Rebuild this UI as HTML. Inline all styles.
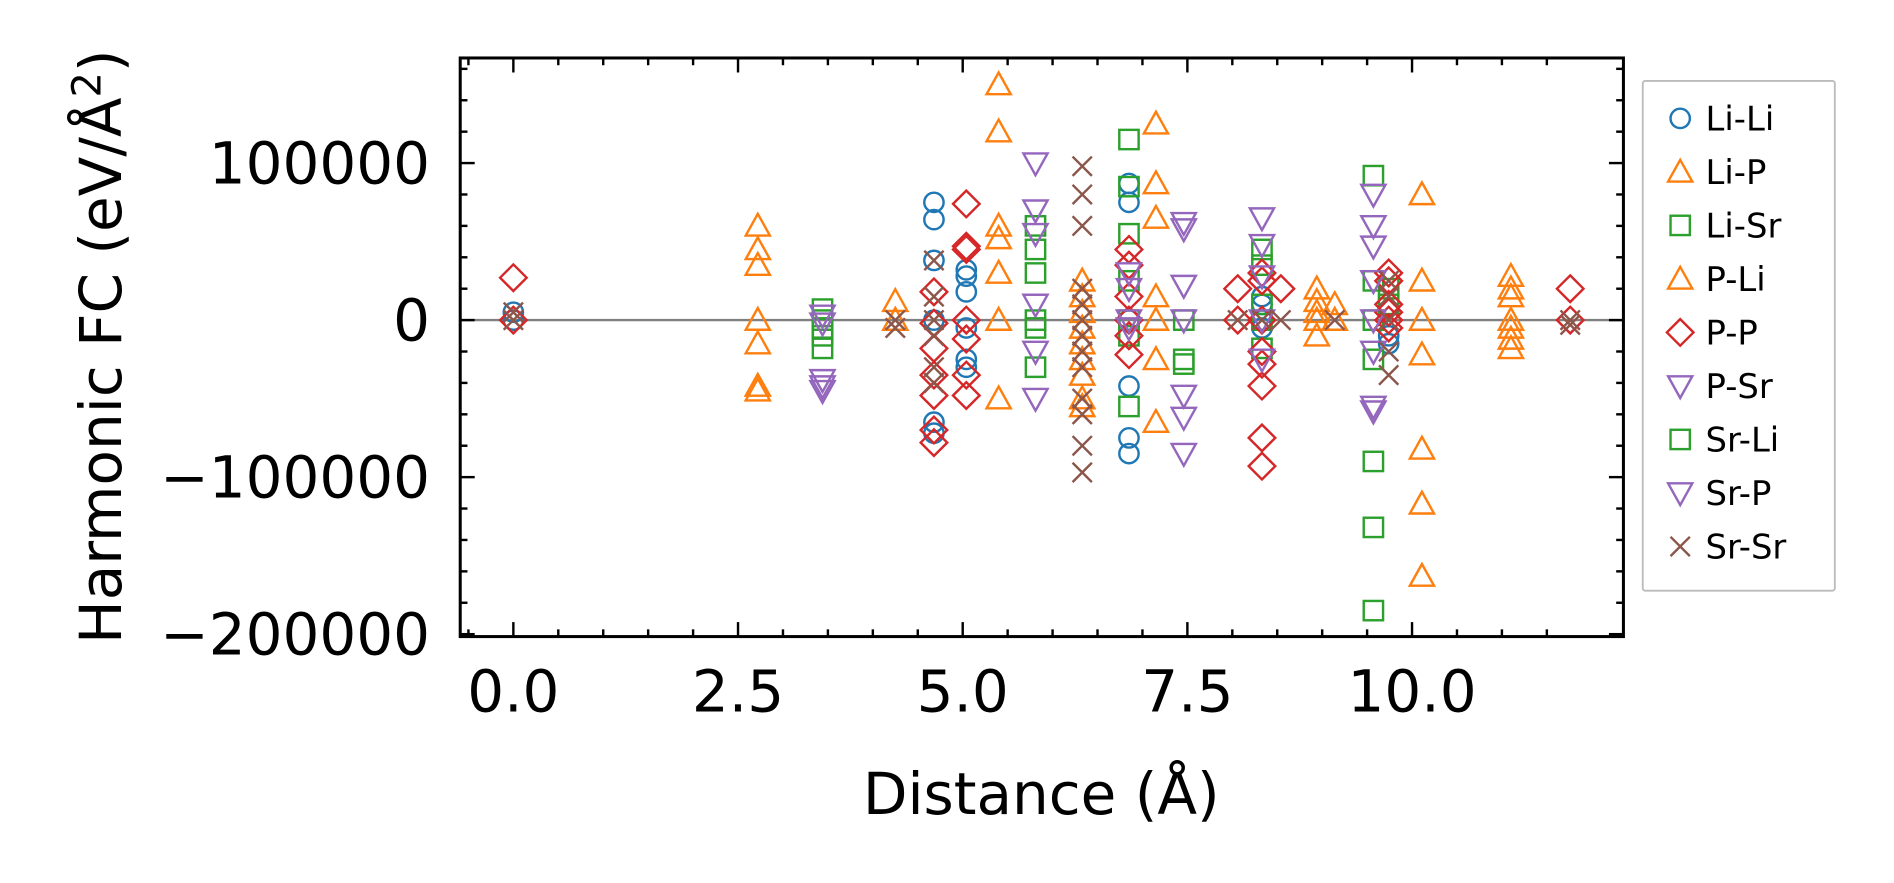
<!DOCTYPE html>
<html><head><meta charset="utf-8"><style>
body{margin:0;background:#fff;}
svg{display:block;font-family:"DejaVu Sans","Liberation Sans",sans-serif;}
</style></head><body>
<svg id="chart" width="1894" height="883" viewBox="0 0 1568 731" preserveAspectRatio="none">
</svg>
<script>
const seriesNames=["Li-Li","Li-P","Li-Sr","P-Li","P-P","P-Sr","Sr-Li","Sr-P","Sr-Sr"];
const xTicks=[0,2.5,5,7.5,10];
const xTickLabels=["0.0","2.5","5.0","7.5","10.0"];
const yTicks=[100000,0,-100000,-200000];
const yTickLabels=["100000","0","\u2212100000","\u2212200000"];
const liLi=[[0,5000],[0,0],[4.68,75000],[4.68,64000],[4.68,38000],[4.68,0],[4.68,-65000],[4.68,-72000],[5.04,32000],[5.04,28000],[5.04,18000],[5.04,-5000],[5.04,-25000],[5.04,-30000],[6.85,87000],[6.85,75000],[6.85,0],[6.85,-42000],[6.85,-75000],[6.85,-85000],[8.33,15000],[8.33,10000],[8.33,0],[8.33,-5000],[9.74,-10000],[9.74,-15000]];
const liP=[[2.72,60000],[2.72,45000],[2.72,35000],[2.72,0],[2.72,-15000],[2.72,-42000],[2.72,-45000],[4.25,12000],[4.25,0],[5.4,150000],[5.4,120000],[5.4,60000],[5.4,52000],[5.4,30000],[5.4,0],[5.4,-50000],[6.33,25000],[6.33,15000],[6.33,5000],[6.33,-5000],[6.33,-15000],[6.33,-25000],[6.33,-35000],[6.33,-50000],[6.33,-55000],[7.15,125000],[7.15,87000],[7.15,65000],[7.15,15000],[7.15,0],[7.15,-25000],[7.15,-65000],[8.94,20000],[8.94,12000],[8.94,5000],[8.94,0],[8.94,-10000],[9.14,10000],[9.14,0],[10.11,80000],[10.11,25000],[10.11,0],[10.11,-22000],[10.11,-82000],[10.11,-117000],[10.11,-163000],[11.1,28000],[11.1,20000],[11.1,15000],[11.1,0],[11.1,-5000],[11.1,-12000],[11.1,-18000]];
const liSr=[[3.44,7000],[3.44,0],[3.44,-5000],[3.44,-10000],[3.44,-18000],[5.81,60000],[5.81,45000],[5.81,30000],[5.81,0],[5.81,-5000],[5.81,-30000],[6.85,115000],[6.85,85000],[6.85,55000],[6.85,25000],[6.85,0],[6.85,-10000],[6.85,-55000],[7.46,0],[7.46,-25000],[7.46,-28000],[8.33,45000],[8.33,35000],[8.33,10000],[8.33,0],[8.33,-18000],[9.57,92000],[9.57,25000],[9.57,0],[9.57,-25000],[9.57,-90000],[9.57,-132000],[9.57,-185000],[9.74,20000],[9.74,10000]];
const pLi=[];
const pP=[[0,27000],[0,0],[4.68,18000],[4.68,-2000],[4.68,-18000],[4.68,-35000],[4.68,-48000],[4.68,-70000],[4.68,-78000],[5.04,74000],[5.04,47000],[5.04,45000],[5.04,0],[5.04,-12000],[5.04,-35000],[5.04,-48000],[6.85,45000],[6.85,35000],[6.85,15000],[6.85,0],[6.85,-10000],[6.85,-22000],[8.06,20000],[8.06,0],[8.33,30000],[8.33,25000],[8.33,0],[8.33,-20000],[8.33,-28000],[8.33,-42000],[8.33,-75000],[8.33,-93000],[8.54,20000],[9.74,30000],[9.74,25000],[9.74,10000],[9.74,5000],[9.74,0],[9.74,-5000],[11.76,20000],[11.76,0]];
const pSr=[[3.44,3000],[3.44,-2000],[3.44,-38000],[3.44,-42000],[3.44,-45000],[5.81,100000],[5.81,70000],[5.81,55000],[5.81,10000],[5.81,-20000],[5.81,-50000],[6.85,30000],[6.85,20000],[6.85,0],[6.85,-5000],[7.46,62000],[7.46,58000],[7.46,22000],[7.46,0],[7.46,-48000],[7.46,-62000],[7.46,-85000],[8.33,65000],[8.33,48000],[8.33,28000],[8.33,0],[8.33,-25000],[9.57,80000],[9.57,60000],[9.57,47000],[9.57,25000],[9.57,0],[9.57,-20000],[9.57,-55000],[9.57,-58000]];
const srLi=[];
const srP=[];
const srSr=[[0,5000],[0,0],[4.25,0],[4.25,-5000],[4.68,38000],[4.68,15000],[4.68,0],[4.68,-10000],[4.68,-30000],[4.68,-40000],[6.33,98000],[6.33,80000],[6.33,60000],[6.33,20000],[6.33,10000],[6.33,0],[6.33,-10000],[6.33,-20000],[6.33,-30000],[6.33,-50000],[6.33,-60000],[6.33,-80000],[6.33,-97000],[8.06,0],[8.33,0],[8.54,0],[9.14,0],[9.74,25000],[9.74,15000],[9.74,0],[9.74,-20000],[9.74,-35000],[11.76,0],[11.76,-3000]];
const seriesData=[liLi,liP,liSr,pLi,pP,pSr,srLi,srP,srSr];
const colors=["#1f77b4","#ff7f0e","#2ca02c","#ff7f0e","#d62728","#9467bd","#2ca02c","#9467bd","#8c564b"];
const shapes=["circle","tri","square","tri","diamond","vtri","square","vtri","x"];

const L=381,R=1344,T=48,B=527;
const X=d=>425+d*74.4;
const Y=v=>265-v*0.0013;
const NS="http://www.w3.org/2000/svg";
const svg=document.getElementById("chart");
function mk(tag,attrs,parent){const e=document.createElementNS(NS,tag);for(const k in attrs)e.setAttribute(k,attrs[k]);(parent||svg).appendChild(e);return e;}
function marker(shape,cx,cy,col,parent){
  const s=10,st={fill:"none",stroke:col,"stroke-width":2};
  let e;
  if(shape==="circle")e=mk("circle",Object.assign({cx:cx,cy:cy,r:8},st),parent);
  else if(shape==="square")e=mk("rect",Object.assign({x:cx-8,y:cy-8,width:16,height:16},st),parent);
  else if(shape==="tri")e=mk("polygon",Object.assign({points:`${cx},${cy-s} ${cx-s},${cy+s*0.8} ${cx+s},${cy+s*0.8}`},st),parent);
  else if(shape==="vtri")e=mk("polygon",Object.assign({points:`${cx},${cy+s} ${cx-s},${cy-s*0.8} ${cx+s},${cy-s*0.8}`},st),parent);
  else if(shape==="diamond")e=mk("polygon",Object.assign({points:`${cx},${cy-11} ${cx+11},${cy} ${cx},${cy+11} ${cx-11},${cy}`},st),parent);
  else e=mk("path",Object.assign({d:`M${cx-8},${cy-8}L${cx+8},${cy+8}M${cx-8},${cy+8}L${cx+8},${cy-8}`},st),parent);
  return e;
}
const zl=mk("line",{x1:L,x2:R,y1:Y(0),y2:Y(0),stroke:"#808080","stroke-width":2});


seriesData.forEach((arr,i)=>{
  const g=mk("g",{});
  
  
  arr.forEach(p=>{
    const m=marker(shapes[i],X(p[0]),Y(p[1]),colors[i],g);
    
    
  });
});
const fr=mk("rect",{x:L,y:T,width:R-L,height:B-T,fill:"none",stroke:"#000","stroke-width":2.5});


for(let d=-0.5;d<=11.5;d+=0.5){
  const x=X(d); if(x<L||x>R)continue;
  const major=Math.abs(d/2.5-Math.round(d/2.5))<1e-6;
  const len=major?12:6;
  mk("line",{x1:x,x2:x,y1:B,y2:B-len,stroke:"#000","stroke-width":2});
  mk("line",{x1:x,x2:x,y1:T,y2:T+len,stroke:"#000","stroke-width":2});
}
for(let v=-200000;v<=160000;v+=20000){
  const y=Y(v); if(y<T||y>B)continue;
  const major=v%100000===0;
  const len=major?12:6;
  mk("line",{x1:L,x2:L+len,y1:y,y2:y,stroke:"#000","stroke-width":2});
  mk("line",{x1:R,x2:R-len,y1:y,y2:y,stroke:"#000","stroke-width":2});
}
xTicks.forEach((d,i)=>{
  const t=mk("text",{x:X(d),y:589,"text-anchor":"middle","font-size":48,fill:"#000"});
  t.textContent=xTickLabels[i];
  
  
});
yTicks.forEach((v,i)=>{
  const t=mk("text",{x:356,y:Y(v)+17,"text-anchor":"end","font-size":48,fill:"#000"});
  t.textContent=yTickLabels[i];
  
  
});
const xt=mk("text",{x:862,y:674,"text-anchor":"middle","font-size":48,fill:"#000"});
xt.textContent="Distance (Å)";


const yt=mk("text",{x:0,y:0,"text-anchor":"middle","font-size":48,fill:"#000",transform:"translate(100,287) rotate(-90)"});
yt.innerHTML='Harmonic FC (eV/Å<tspan dy="-17" font-size="33">2</tspan><tspan dy="17">)</tspan>';


const lg=mk("g",{});


mk("rect",{x:1360,y:67,width:159,height:422,fill:"#fff",stroke:"#bbb","stroke-width":1.5,rx:2},lg);
seriesNames.forEach((n,i)=>{
  const y=98+i*44.3;
  const e=mk("g",{},lg);
  
  
  marker(shapes[i],1391,y,colors[i],e);
  const t=mk("text",{x:1412,y:y+10,"font-size":28,fill:"#000"},e);
  t.textContent=n;
});
</script>
</body></html>
